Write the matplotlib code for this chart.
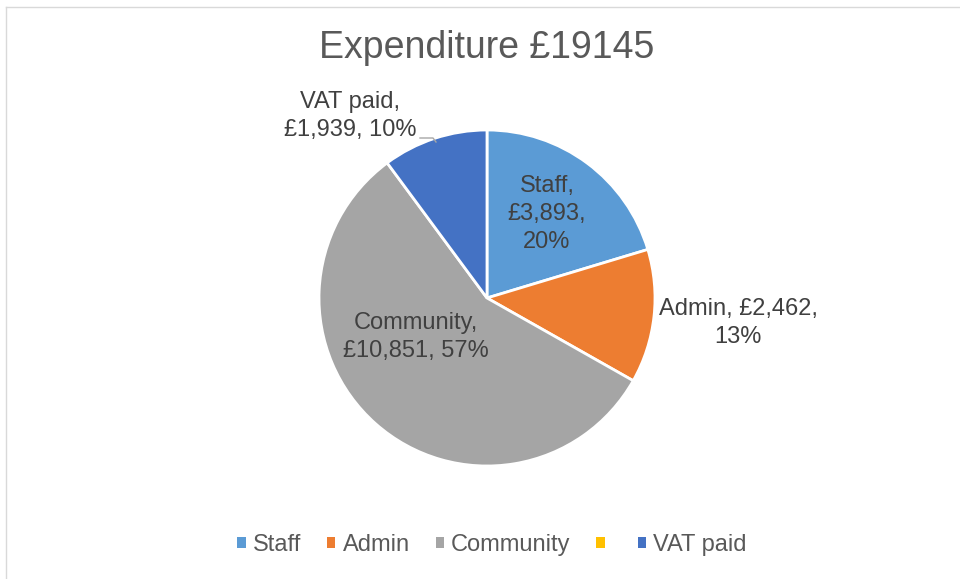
import matplotlib
matplotlib.use("Agg")
import matplotlib.pyplot as plt
from matplotlib.lines import Line2D
from matplotlib.patches import Patch

plt.rcParams['font.family'] = ['Liberation Sans', 'DejaVu Sans']

categories = ["Staff", "Admin", "Community", "", "VAT paid"]
values = [3893, 2462, 10851, 0, 1939]
colors = ["#5B9BD5", "#ED7D31", "#A5A5A5", "#FFC000", "#4472C4"]
label_texts = ["Staff,\n£3,893,\n20%", "Admin, £2,462,\n13%", "Community,\n£10,851, 57%", None, "VAT paid,\n£1,939, 10%"]
title = "Expenditure £19145"

W, H = 960, 579
cx, cy, R = 487, 298, 168

fig = plt.figure(figsize=(W / 100, H / 100), dpi=100)
ax = fig.add_axes([0, 0, 1, 1])

pie_vals = [v for v in values if v > 0]
pie_cols = [c for v, c in zip(values, colors) if v > 0]
wedges, _ = ax.pie(pie_vals, colors=pie_cols, startangle=90, counterclock=False,
                   radius=1, center=(0, 0),
                   wedgeprops=dict(edgecolor='white', linewidth=2), frame=True)
ax.set_xlim(-cx / R, (W - cx) / R)
ax.set_ylim(-(H - cy) / R, cy / R)
ax.set_aspect('equal')
ax.axis('off')

def px(x, y):
    return ((x - cx) / R, (cy - y) / R)

txt_col = "#404040"
fs = 17
pos = {0: (547, 214), 1: (738, 323), 2: (416, 337), 4: (350, 116)}
for i, t in enumerate(label_texts):
    if t is None:
        continue
    x, y = px(*pos[i])
    ax.text(x, y, t, ha='center', va='center', fontsize=fs, color=txt_col, linespacing=1.35)

# leader line for VAT paid
pts = [px(420, 138), px(433, 138), px(436, 142)]
ax.plot([p[0] for p in pts], [p[1] for p in pts], color="#A6A6A6", lw=1)

tx, ty = px(487, 48)
ax.text(tx, ty, title, ha='center', va='center', fontsize=27, color="#595959")

handles = [Patch(facecolor=c, edgecolor='none') for c in colors]
leg = ax.legend(handles, categories, loc='center', bbox_to_anchor=(492 / W, 1 - 545 / H),
                bbox_transform=fig.transFigure, ncol=5, frameon=False, fontsize=17,
                handlelength=0.35, handleheight=0.35, handletextpad=0.3, columnspacing=1.1)
for t in leg.get_texts():
    t.set_color("#595959")

# chart border
fig.add_artist(Line2D([6 / W, 6 / W], [0, 1 - 7 / H], color="#D9D9D9", lw=1, transform=fig.transFigure))
fig.add_artist(Line2D([6 / W, 1], [1 - 7 / H, 1 - 7 / H], color="#D9D9D9", lw=1, transform=fig.transFigure))

fig.savefig("out.png", dpi=100, facecolor='white')
